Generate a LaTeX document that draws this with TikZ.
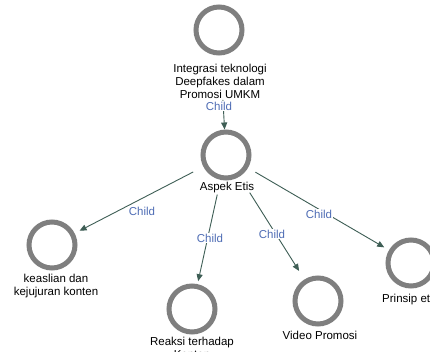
\documentclass[tikz,border=0pt]{standalone}
\usepackage{fontspec}
\setmainfont{Liberation Sans}
\usetikzlibrary{arrows.meta}
\definecolor{ring}{HTML}{7F7F7F}
\definecolor{edgec}{HTML}{3E5E55}
\definecolor{lblc}{HTML}{4F6DB5}
\begin{document}
\begin{tikzpicture}[x=1pt,y=-1pt,
  ringnode/.style={circle,draw=ring,line width=5pt,minimum size=46pt,inner sep=0pt},
  txt/.style={font=\fontsize{11.5}{13}\selectfont,align=center,inner sep=0pt,text=black},
  rel/.style={draw=edgec,line width=0.9pt,-{Triangle[length=7pt,width=6pt]}},
  lbl/.style={font=\fontsize{11.5}{13}\selectfont,text=lblc,fill=white,inner sep=1pt}]
\useasboundingbox (0,0) rectangle (430,352);
\clip (0,0) rectangle (430,352);
\fill[white] (0,0) rectangle (430,352);

% nodes
\node[ringnode] (t) at (219,30) {};
\node[txt] (tl) at (220,81) {Integrasi teknologi\\Deepfakes dalam\\Promosi UMKM};
\node[ringnode] (a) at (226,155) {};
\node[txt] (al) at (227,188) {Aspek Etis};
\node[ringnode] (k) at (52,245) {};
\node[txt] (kl) at (56,286) {keaslian dan\\kejujuran konten};
\node[ringnode] (r) at (192,309) {};
\node[txt,anchor=north] (rl) at (192,337) {Reaksi terhadap\\Konten};
\node[ringnode] (v) at (318,301) {};
\node[txt] (vl) at (320,335) {Video Promosi};
\node[ringnode] (p) at (411,263) {};
\node[txt,anchor=west] (pl) at (382,300) {Prinsip etis};

% connectors
\draw[rel,shorten <=44.5pt] (t) -- (a);
\draw[rel,shorten <=11.5pt,shorten >=5.5pt] (a) -- (k);
\draw[rel,shorten <=15pt,shorten >=3pt] (a) -- (r);
\draw[rel,shorten <=19pt,shorten >=10pt] (a) -- (v);
\draw[rel,shorten <=8.5pt,shorten >=5.5pt] (a) -- (p);

% labels
\node[lbl] (c1) at (219,106) {Child};
\node[lbl] (c2) at (142,211) {Child};
\node[lbl] (c3) at (210,238) {Child};
\node[lbl] (c4) at (272,234) {Child};
\node[lbl] (c5) at (319,214) {Child};
\end{tikzpicture}
\end{document}
